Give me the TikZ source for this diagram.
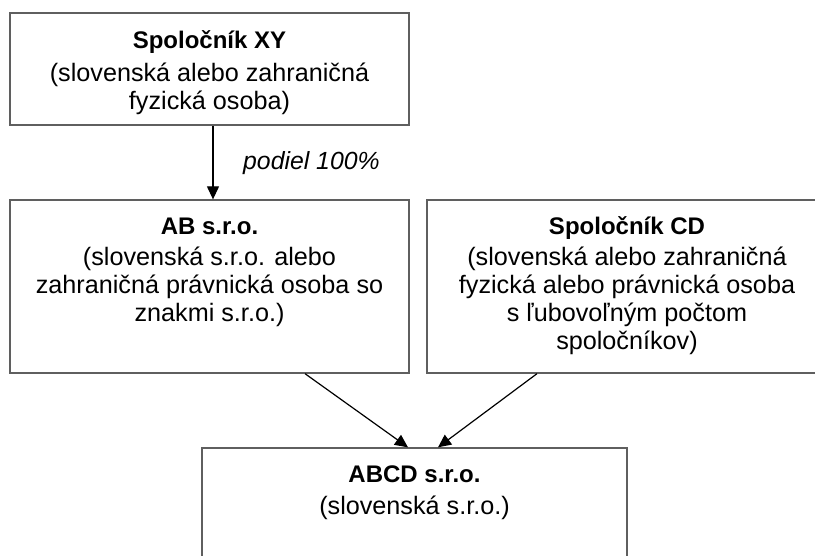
\documentclass[tikz,border=0pt]{standalone}
\usepackage{fontspec}
\setmainfont{Liberation Sans}
\usetikzlibrary{arrows.meta}
\definecolor{boxline}{RGB}{95,95,95}
\newcommand{\ttl}[1]{{\fontsize{24}{28}\selectfont\bfseries #1}}
\tikzset{
  box/.style={draw=boxline, line width=1.3pt, fill=white, inner sep=0pt, minimum height=#1},
  txt/.style={anchor=base, inner sep=0pt, font=\fontsize{25.2}{28}\selectfont},
  conn/.style={draw=black, line width=1.2pt, -{Triangle[length=13pt,width=12pt]}},
  lbl/.style={anchor=base west, inner sep=0pt, font=\fontsize{24.8}{28}\selectfont\itshape}
}
\begin{document}
\begin{tikzpicture}[x=1pt,y=-1pt]
\useasboundingbox (0,0) rectangle (815,555);
\clip (0,0) rectangle (815,555);
\fill[white] (0,0) rectangle (815,555);
% boxes
\node[box=112pt, minimum width=399pt] (xy) at (209.5,69) {};
\node[box=173pt, minimum width=399pt] (ab) at (209.5,286.5) {};
\node[box=173pt, minimum width=400pt] (cd) at (627,286.5) {};
\node[box=130pt, minimum width=425pt] (abcd) at (414.5,513) {};
% texts
\node[txt] (xyt) at (209.5,48) {\begin{tabular}[t]{@{}c@{}}\ttl{Spoločník XY}\\[5pt](slovenská alebo zahraničná\\fyzická osoba)\end{tabular}};
\node[txt] (abt) at (209.5,234) {\begin{tabular}[t]{@{}c@{}}\ttl{AB s.r.o.}\\[3pt](slovenská s.r.o. alebo\\zahraničná právnická osoba so\\znakmi s.r.o.)\end{tabular}};
\node[txt] (cdt) at (627,234) {\begin{tabular}[t]{@{}c@{}}\ttl{Spoločník CD}\\[3pt](slovenská alebo zahraničná\\fyzická alebo právnická osoba\\s ľubovoľným počtom\\spoločníkov)\end{tabular}};
\node[txt] (abcdt) at (414.5,482) {\begin{tabular}[t]{@{}c@{}}\ttl{ABCD s.r.o.}\\[4pt](slovenská s.r.o.)\end{tabular}};
% connectors
\draw[conn] ([xshift=3.5pt]xy.south) -- ([xshift=3.5pt]ab.north);
\node[lbl] (pct) at (243,169) {podiel 100\%};
\draw[conn] ([xshift=95.5pt]ab.south) -- ([xshift=-6.5pt]abcd.north);
\draw[conn] ([xshift=-90pt]cd.south) -- ([xshift=23.5pt]abcd.north);
\end{tikzpicture}
\end{document}
